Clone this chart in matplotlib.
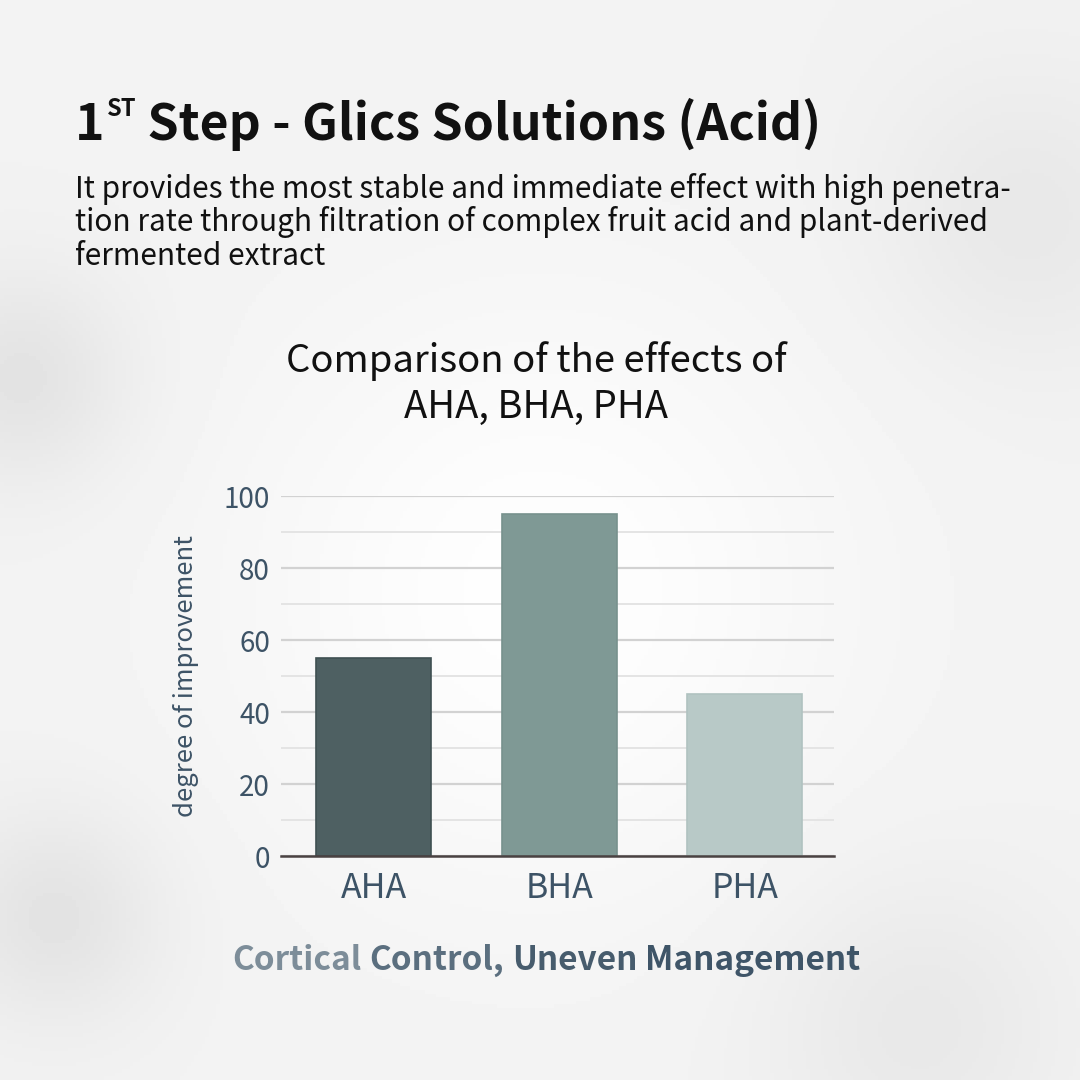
import numpy as np
import matplotlib.pyplot as plt

plt.rcParams['font.family'] = ['Noto Sans CJK KR', 'DejaVu Sans']

categories = ["AHA", "BHA", "PHA"]
values = [55, 95, 45]
bar_colors = ["#4e6062", "#7f9995", "#b8c9c7"]
edge_colors = ["#3f5052", "#77918d", "#b0c2c0"]
y_ticks = [0, 20, 40, 60, 80, 100]

heading = " Step - Glics Solutions (Acid)"
body_lines = [
    "It provides the most stable and immediate effect with high penetra-",
    "tion rate through filtration of complex fruit acid and plant-derived",
    "fermented extract",
]
chart_title = "Comparison of the effects of\nAHA, BHA, PHA"
y_label = "degree of improvement"
footer_words = ["Cortical", "Control,", "Uneven", "Management"]
footer_colors = ["#7d8d99", "#5b6f7f", "#475c6d", "#3f5568"]

W = H = 1080
fig = plt.figure(figsize=(10.8, 10.8), dpi=100)


def fx(px):
    return px / W


def fy(py):
    return 1 - py / H


# soft background
bg = fig.add_axes([0, 0, 1, 1], zorder=-10)
yy, xx = np.mgrid[0:1:300j, 0:1:300j]
field = 0.95 * np.ones_like(xx)
field += 0.045 * np.exp(-((xx - 0.5) ** 2 + (yy - 0.55) ** 2) / 0.08)
field -= 0.06 * np.exp(-((xx - 0.02) ** 2 + (yy - 0.35) ** 2) / 0.01)
field -= 0.06 * np.exp(-((xx - 0.05) ** 2 + (yy - 0.85) ** 2) / 0.01)
field -= 0.04 * np.exp(-((xx - 0.95) ** 2 + (yy - 0.2) ** 2) / 0.02)
field -= 0.04 * np.exp(-((xx - 0.85) ** 2 + (yy - 0.95) ** 2) / 0.02)
field = np.clip(field, 0, 1)
bg.imshow(field, cmap="gray", vmin=0, vmax=1, extent=[0, 1, 0, 1], aspect="auto", origin="upper")
bg.axis("off")

# heading with superscript
t1 = fig.text(fx(75), fy(140), "1", fontsize=36, fontweight="bold", color="#111111", va="baseline")
t2 = fig.text(0, 0, "ST", fontsize=17, fontweight="bold", color="#111111")
t3 = fig.text(0, 0, heading, fontsize=36, fontweight="bold", color="#111111")
fig.canvas.draw()
r = fig.canvas.get_renderer()
b1 = t1.get_window_extent(r)
t2.set_position((fx(b1.x1 + 2), fy(116)))
t2.set_va("baseline")
fig.canvas.draw()
b2 = t2.get_window_extent(r)
t3.set_position((fx(b2.x1), fy(140)))
t3.set_va("baseline")

for i, line in enumerate(body_lines):
    fig.text(fx(75), fy(198 + i * 33.5), line, fontsize=21.5, color="#111111", va="baseline")

fig.text(fx(536), fy(384), chart_title, fontsize=27.5, color="#111111",
         ha="center", va="center", linespacing=1.2)

ax = fig.add_axes([fx(281), fy(856), fx(834) - fx(281), (856 - 496) / H])
x = np.arange(len(categories))
ax.bar(x, values, width=0.62, color=bar_colors, edgecolor=edge_colors, linewidth=1.2, zorder=3)
ax.set_xlim(-0.5, 2.48)
ax.set_ylim(0, 100)
ax.set_yticks(y_ticks)
ax.set_yticks(range(10, 100, 20), minor=True)
ax.grid(axis="y", which="major", color="#d2d2d2", linewidth=1.6, zorder=0)
ax.grid(axis="y", which="minor", color="#e4e4e4", linewidth=1.4, zorder=0)
ax.set_xticks(x)
ax.set_xticklabels(categories)
ax.tick_params(axis="x", length=0, pad=11, labelsize=24.5, labelcolor="#3d5366")
ax.tick_params(axis="y", which="both", length=0, pad=8, labelsize=20, labelcolor="#3d5366")
ax.set_facecolor("none")
for s in ["top", "right", "left"]:
    ax.spines[s].set_visible(False)
ax.spines["bottom"].set_color("#4a4242")
ax.spines["bottom"].set_linewidth(1.8)
ax.spines["bottom"].set_zorder(4)
ax.set_ylabel(y_label, fontsize=18.5, color="#3d5366", labelpad=18)

# footer with colour fade across words
fig.canvas.draw()
xpos = 232
for word, col in zip(footer_words, footer_colors):
    t = fig.text(fx(xpos), fy(970), word, fontsize=24, fontweight="bold", color=col, va="baseline")
    fig.canvas.draw()
    bb = t.get_window_extent(r)
    xpos = bb.x1 + 8

fig.savefig("out.png", dpi=100)
